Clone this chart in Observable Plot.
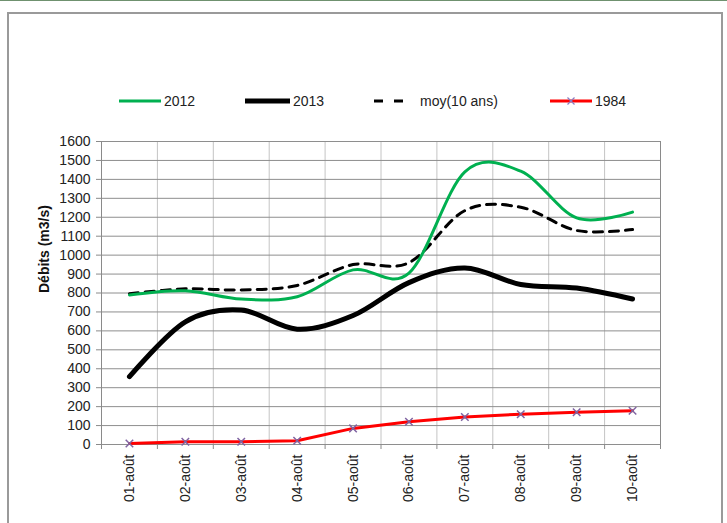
<!DOCTYPE html>
<html><head><meta charset="utf-8">
<script src="https://cdn.jsdelivr.net/npm/d3@7"></script>
<script src="https://cdn.jsdelivr.net/npm/@observablehq/plot@0.6"></script>
<style>
body{margin:0;background:#fff;font-family:"Liberation Sans",Arial,sans-serif;}
#wrap{position:relative;width:727px;height:523px;overflow:hidden;background:#fff;}
#topline{position:absolute;left:0;top:0;width:727px;height:1px;background:#6f916f;}
#frame{position:absolute;left:7px;top:12px;width:712px;height:530px;border:2px solid #9a9a9a;}
.lg{position:absolute;top:93px;font-size:14px;color:#222;line-height:16px;}
.lg svg{position:absolute;top:0;}
#chart{position:absolute;left:0;top:130px;}
</style></head>
<body>
<div id="wrap">
  <div id="topline"></div>
  <div id="frame"></div>
  <div id="legend"></div>
  <div id="chart"></div>
</div>
<script>
const categories = ["01-août","02-août","03-août","04-août","05-août","06-août","07-août","08-août","09-août","10-août"];
const v2012 = [790, 812, 768, 780, 922, 905, 1440, 1443, 1197, 1227];
const v2013 = [358, 648, 710, 609, 681, 855, 932, 845, 826, 768];
const vMoy  = [796, 822, 816, 840, 950, 960, 1235, 1253, 1130, 1135];
const v1984 = [5, 15, 15, 20, 85, 120, 145, 160, 170, 178];
const yTicks = [0,100,200,300,400,500,600,700,800,900,1000,1100,1200,1300,1400,1500,1600];
const seriesNames = ["2012","2013","moy(10 ans)","1984"];

const idx = categories.map((c,i)=>i);
const bounds = categories.map((c,i)=>i-0.5).concat([categories.length-0.5]);
const toRows = vals => vals.map((v,i)=>({i, v}));

// legend
const legendDefs = [
  {name: seriesNames[0], left:119, w:42, lx:164, stroke:"#00b050", sw:3, dash:null, mark:false},
  {name: seriesNames[1], left:245, w:45, lx:293, stroke:"#000", sw:5, dash:null, mark:false},
  {name: seriesNames[2], left:374, w:34, lx:420, stroke:"#000", sw:3, dash:"9,11", mark:false},
  {name: seriesNames[3], left:550, w:42, lx:595, stroke:"#ff0000", sw:3, dash:null, mark:true}
];
const lg = document.getElementById("legend");
for (const d of legendDefs) {
  const sw = document.createElement("div");
  sw.className = "lg";
  sw.style.left = d.left + "px";
  sw.innerHTML = `<svg width="${d.w}" height="16" style="left:0"><line x1="0" x2="${d.w}" y1="8" y2="8" stroke="${d.stroke}" stroke-width="${d.sw}" ${d.dash?`stroke-dasharray="${d.dash}"`:""} stroke-linecap="${d.sw>=5?"round":"butt"}"/>${d.mark?`<path d="M${d.w/2-3.5},4.5L${d.w/2+3.5},11.5M${d.w/2-3.5},11.5L${d.w/2+3.5},4.5" stroke="#8a7cc0" stroke-width="1.2"/>`:""}</svg>`;
  lg.appendChild(sw);
  const t = document.createElement("div");
  t.className = "lg";
  t.style.left = d.lx + "px";
  t.textContent = d.name;
  lg.appendChild(t);
}

const chart = Plot.plot({
  width: 727,
  height: 393,
  marginTop: 11,
  marginBottom: 79,
  marginLeft: 101,
  marginRight: 67,
  style: {fontFamily: "Liberation Sans, Arial, sans-serif", fontSize: "14px", color: "#222", background: "transparent"},
  x: {type: "linear", domain: [-0.5, categories.length - 0.5], axis: null},
  y: {domain: [0, 1600], axis: null},
  marks: [
    Plot.ruleX(bounds, {stroke: "#c4c4c4", strokeWidth: 1}),
    Plot.ruleY(yTicks, {stroke: "#8e8e8e", strokeWidth: 1}),
    Plot.ruleX([bounds[0], bounds[bounds.length-1]], {stroke: "#8a8a8a", strokeWidth: 1}),
    Plot.axisY(yTicks, {tickSize: 5, tickPadding: 6, stroke: "#8a8a8a", label: null, fill: "#222", tickFormat: d => String(d)}),
    Plot.axisX(bounds, {tickSize: 5, tickFormat: () => "", stroke: "#8a8a8a", label: null}),
    Plot.axisX(idx, {tickSize: 0, tickPadding: 10, tickRotate: -90, tickFormat: i => categories[i], label: null, fill: "#222"}),
    Plot.text(["Débits (m3/s)"], {frameAnchor: "left", dx: -57, rotate: -90, fontWeight: "bold", fontSize: 14, fill: "#111"}),
    Plot.line(toRows(v1984), {x: "i", y: "v", stroke: "#ff0000", strokeWidth: 3}),
    Plot.dot(toRows(v1984), {x: "i", y: "v", symbol: "times", r: 3.5, stroke: "#8064a2", strokeWidth: 1.5}),
    Plot.line(toRows(vMoy), {x: "i", y: "v", stroke: "#000", strokeWidth: 3, strokeDasharray: "9,7", curve: "cardinal"}),
    Plot.line(toRows(v2012), {x: "i", y: "v", stroke: "#00b050", strokeWidth: 3, curve: "cardinal"}),
    Plot.line(toRows(v2013), {x: "i", y: "v", stroke: "#000", strokeWidth: 5, strokeLinecap: "round", curve: "cardinal"})
  ]
});
document.getElementById("chart").appendChild(chart);
</script>
</body></html>
